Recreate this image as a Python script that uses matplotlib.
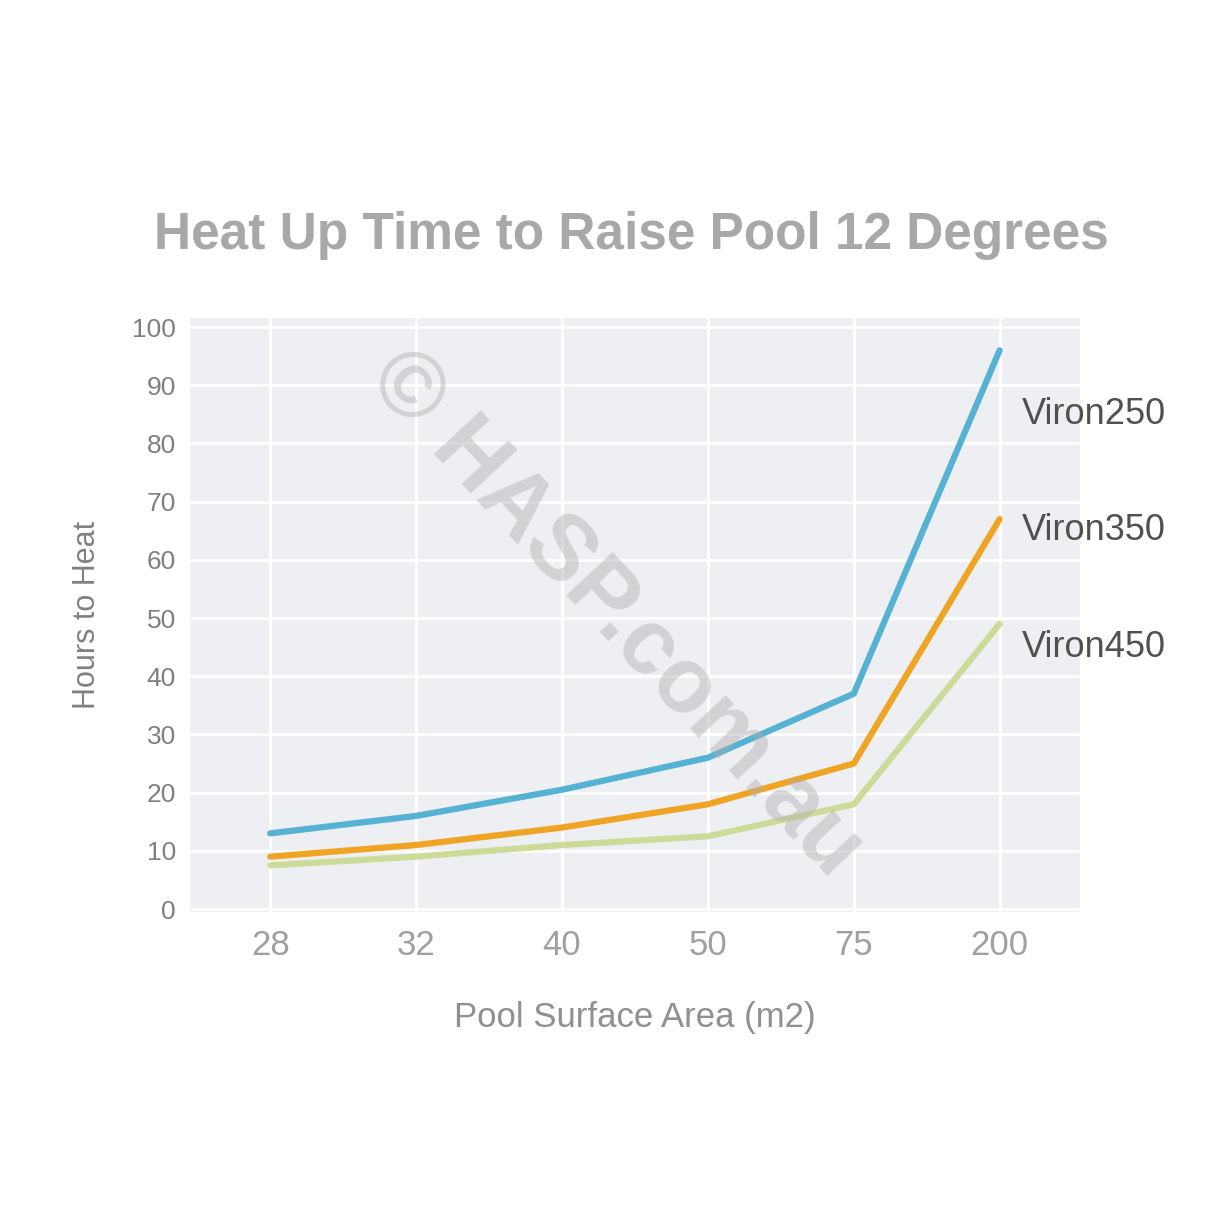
import matplotlib
matplotlib.use('Agg')
import matplotlib.pyplot as plt

# Данные графика
areas = ['28', '32', '40', '50', '75', '200']
viron250 = [13, 16, 20.5, 26, 37, 96]
viron350 = [9, 11, 14, 18, 25, 67]
viron450 = [7.5, 9, 11, 12.5, 18, 49]
series_names = ['Viron250', 'Viron350', 'Viron450']
label_y = [85, 65, 45]
y_ticks = [0, 10, 20, 30, 40, 50, 60, 70, 80, 90, 100]

plt.rcParams['font.family'] = ['Liberation Sans', 'DejaVu Sans']

fig = plt.figure(figsize=(12.14, 12.14), dpi=100)
ax = fig.add_axes([0.1565, 0.2488, 0.733, 0.489])
ax.set_facecolor('#eeeff3')
x = range(len(areas))

colors = ['#55b2d2', '#f0a424', '#ccdc98']
for vals, c in zip([viron250, viron350, viron450], colors):
    ax.plot(x, vals, color=c, lw=4.5, solid_capstyle='round')

# Подписи серий справа
for name, yv in zip(series_names, label_y):
    ax.text(5.15, yv, name, fontsize=26, color='#505050', va='center', ha='left',
            clip_on=False)

ax.set_xlim(-0.55, 5.55)
ax.set_ylim(-0.5, 101.5)
ax.set_xticks(list(x))
ax.set_xticklabels(areas, fontsize=25, color='#a0a0a0')
ax.set_yticks(y_ticks)
ax.set_yticklabels([str(t) for t in y_ticks], fontsize=19, color='#808080')
ax.tick_params(length=0, pad=12)
ax.tick_params(axis='y', pad=10)
ax.grid(True, color='white', lw=2)
ax.set_axisbelow(True)
for s in ax.spines.values():
    s.set_visible(False)

ax.set_xlabel('Pool Surface Area (m2)', fontsize=25, color='#909090', labelpad=28)
ax.set_ylabel('Hours to Heat', fontsize=22, color='#808080', labelpad=22)
fig.text(0.52, 0.806, 'Heat Up Time to Raise Pool 12 Degrees', fontsize=37,
         color='#a8a8a8', fontweight='bold', ha='center', va='center')

# Водяной знак
fig.text(0.507, 0.494, '© HASP.com.au', fontsize=66, color='#b0b0b0', alpha=0.45,
         rotation=-47, ha='center', va='center', fontweight='bold')

fig.savefig('out.png', dpi=100)
